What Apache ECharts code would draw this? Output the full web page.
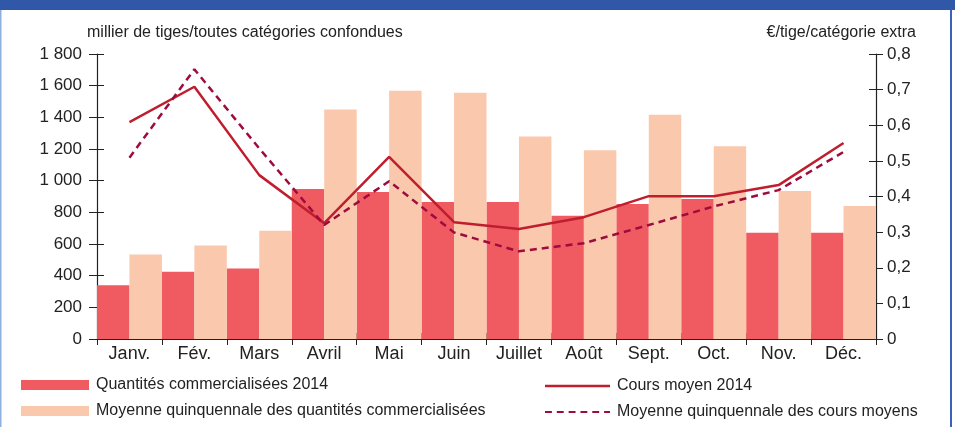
<!doctype html>
<html>
    <head>
        <meta charset="utf-8">
        <style>
            html, body { margin: 0; padding: 0; background: #fff; }
            #main { width: 955px; height: 427px; }
        </style>
    </head>
    <body>
        <div id="main"></div>
        <script src="https://cdn.jsdelivr.net/npm/echarts@6/dist/echarts.min.js"></script>
        <script>
            var months = ['Janv.', 'Fév.', 'Mars', 'Avril', 'Mai', 'Juin', 'Juillet', 'Août', 'Sept.', 'Oct.', 'Nov.', 'Déc.'];
            // milliers de tiges
            var quantites2014 = [340, 425, 445, 948, 928, 866, 866, 778, 853, 884, 671, 671];
            var quantitesMoy5 = [533, 590, 684, 1449, 1568, 1555, 1279, 1192, 1417, 1217, 934, 840];
            // €/tige
            var cours2014 = [0.609, 0.708, 0.460, 0.325, 0.511, 0.328, 0.309, 0.342, 0.401, 0.401, 0.432, 0.550];
            var coursMoy5 = [0.509, 0.757, 0.535, 0.320, 0.443, 0.299, 0.246, 0.269, 0.320, 0.372, 0.418, 0.525];

            var FONT = 'Liberation Sans, Arial, sans-serif';
            var AXIS = '#222';
            var DASH_ICON = 'path://M0,0h7v2h-7z M12,0h7v2h-7z M24,0h7v2h-7z M36,0h7v2h-7z M48,0h7v2h-7z M60,0h6v2h-6z';

            function fmtThousands(v) {
                return String(v).replace(/\B(?=(\d{3})+(?!\d))/g, ' ');
            }

            function legendItem(name, left, top, w, h, icon) {
                return {
                    left: left, top: top, padding: 0,
                    itemWidth: w, itemHeight: h, itemGap: 0,
                    textStyle: { fontSize: 16, color: '#222', fontFamily: FONT, padding: [0, 0, 0, 2] },
                    data: [{ name: name, icon: icon || 'rect' }]
                };
            }

            var chart = echarts.init(document.getElementById('main'));

            chart.setOption({
                animation: false,
                textStyle: { fontFamily: FONT },
                grid: { left: 97, right: 79, top: 54, bottom: 88 },
                graphic: [
                    { type: 'rect', left: 0, top: 0, shape: { width: 955, height: 10 }, style: { fill: '#3158a8' } },
                    { type: 'rect', left: 0, top: 10, shape: { width: 1.5, height: 417 }, style: { fill: '#8fb0dd' } },
                    { type: 'rect', left: 950, top: 10, shape: { width: 2, height: 417 }, style: { fill: '#3a62b8' } }
                ],
                legend: [
                    legendItem('Quantités commercialisées 2014', 21, 377, 68, 10),
                    legendItem('Moyenne quinquennale des quantités commercialisées', 21, 403, 68, 10),
                    legendItem('Cours moyen 2014', 545, 378, 65, 2.5),
                    legendItem('Moyenne quinquennale des cours moyens', 545, 404, 65, 3, DASH_ICON)
                ],
                xAxis: [{
                    type: 'category',
                    data: months,
                    axisLine: { lineStyle: { color: AXIS, width: 1.2 } },
                    axisTick: { show: true, length: 6, lineStyle: { color: AXIS } },
                    axisLabel: { color: '#222', fontSize: 18, margin: 6, fontFamily: FONT }
                }, {
                    // inner half of the crossing ticks, bottom
                    type: 'category', data: months, position: 'bottom',
                    axisLine: { show: false }, axisLabel: { show: false },
                    axisTick: { show: true, inside: true, length: 6, lineStyle: { color: AXIS } }
                }],
                yAxis: [{
                    type: 'value', min: 0, max: 1800, interval: 200,
                    name: 'millier de tiges/toutes catégories confondues',
                    nameLocation: 'end', nameGap: 13,
                    nameTextStyle: { color: '#222', fontSize: 16, align: 'left', padding: [0, 0, 0, -10] },
                    splitLine: { show: false },
                    axisLine: { show: true, lineStyle: { color: AXIS, width: 1.2 } },
                    axisTick: { show: true, length: 8, lineStyle: { color: AXIS } },
                    axisLabel: { color: '#222', fontSize: 17, margin: 15, formatter: fmtThousands }
                }, {
                    type: 'value', min: 0, max: 0.8, interval: 0.1,
                    name: '€/tige/catégorie extra',
                    nameLocation: 'end', nameGap: 13,
                    nameTextStyle: { color: '#222', fontSize: 16, align: 'right', padding: [0, -40, 0, 0] },
                    splitLine: { show: false },
                    axisLine: { show: true, lineStyle: { color: AXIS, width: 1.2 } },
                    axisTick: { show: true, length: 7, lineStyle: { color: AXIS } },
                    axisLabel: { color: '#222', fontSize: 17, margin: 11, formatter: function (v) { return String(v).replace('.', ','); } }
                }, {
                    // inner half of the crossing ticks, left
                    type: 'value', min: 0, max: 1800, interval: 200, position: 'left',
                    splitLine: { show: false }, axisLine: { show: false }, axisLabel: { show: false },
                    axisTick: { show: true, inside: true, length: 7, lineStyle: { color: AXIS } }
                }, {
                    // inner half of the crossing ticks, right
                    type: 'value', min: 0, max: 0.8, interval: 0.1, position: 'right',
                    splitLine: { show: false }, axisLine: { show: false }, axisLabel: { show: false },
                    axisTick: { show: true, inside: true, length: 7, lineStyle: { color: AXIS } }
                }],
                series: [{
                    name: 'Quantités commercialisées 2014',
                    type: 'bar',
                    data: quantites2014,
                    barGap: '0%', barCategoryGap: '0%',
                    itemStyle: { color: '#f05a61' }
                }, {
                    name: 'Moyenne quinquennale des quantités commercialisées',
                    type: 'bar',
                    data: quantitesMoy5,
                    itemStyle: { color: '#fac8ad' }
                }, {
                    name: 'Cours moyen 2014',
                    type: 'line',
                    yAxisIndex: 1,
                    data: cours2014,
                    symbol: 'none',
                    itemStyle: { color: '#bf1e2e' },
                    lineStyle: { color: '#bf1e2e', width: 2.5 }
                }, {
                    name: 'Moyenne quinquennale des cours moyens',
                    type: 'line',
                    yAxisIndex: 1,
                    data: coursMoy5,
                    symbol: 'none',
                    itemStyle: { color: '#9e0c3e' },
                    lineStyle: { color: '#9e0c3e', width: 2.5, type: [7, 5] }
                }]
            });

            window.addEventListener('resize', function () {
                chart.resize();
            });
        </script>
    </body>
</html>
